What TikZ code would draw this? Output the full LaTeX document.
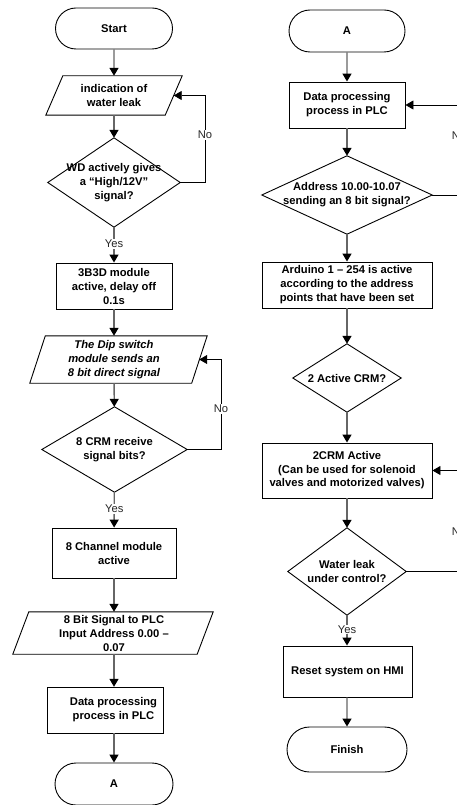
\documentclass[tikz,border=0pt]{standalone}
\usepackage{fontspec}
\setmainfont{Liberation Sans}
\usetikzlibrary{arrows.meta,shapes.misc,calc}
\begin{document}
\begin{tikzpicture}[x=1pt,y=-1pt,
  txt/.style={font=\bfseries\fontsize{11.2}{14}\selectfont, align=center, inner sep=0pt},
  term/.style={txt, rounded rectangle, draw, line width=0.9pt},
  proc/.style={txt, rectangle, draw, line width=0.9pt},
  hold/.style={txt, rectangle},
  outline/.style={draw, line width=0.9pt},
  flow/.style={draw=black!60, line width=1.4pt, -{Triangle[width=9pt,length=8pt,color=black]}},
  back/.style={draw=black, line width=0.8pt, -{Triangle[width=9pt,length=8pt,color=black]}},
  lbl/.style={font=\fontsize{11.2}{13}\selectfont, fill=white, inner sep=1pt, text=black!85}]
\useasboundingbox (0,0) rectangle (457,805);
\clip (0,0) rectangle (457,805);
\fill[white] (0,0) rectangle (457,805);

% ---------- left column ----------
\node[term, minimum width=117pt, minimum height=41pt] (start) at (114,28.5) {Start};
\node[hold, minimum width=136pt, minimum height=39pt] (p1) at (114,95.5) {indication of\\water leak};
\draw[outline] (p1.south west) -- ($(p1.north west)+(17,0)$) -- (p1.north east) -- ($(p1.south east)+(-17,0)$) -- cycle;
\node[hold, minimum width=132pt, minimum height=89pt] (d1) at (114,182.5) {WD actively gives\\a “High/12V”\\signal?};
\draw[outline] (d1.north) -- (d1.east) -- (d1.south) -- (d1.west) -- cycle;
\node[proc, minimum width=116pt, minimum height=46pt] (b1) at (114,286) {3B3D module\\active, delay off\\0.1s};
\node[hold, minimum width=177pt, minimum height=47pt, font=\bfseries\itshape\fontsize{11.2}{14}\selectfont] (p2) at (114,359.5) {The Dip switch\\module sends an\\8 bit direct signal};
\draw[outline] ($(p2.south west)+(4.5,0)$) -- ($(p2.north west)+(20,0)$) -- ($(p2.north east)+(4.5,0)$) -- ($(p2.south east)+(-11,0)$) -- cycle;
\node[hold, minimum width=145pt, minimum height=85pt] (d2) at (114.5,449.5) {8 CRM receive\\signal bits?};
\draw[outline] (d2.north) -- (d2.east) -- (d2.south) -- (d2.west) -- cycle;
\node[proc, minimum width=124pt, minimum height=50pt] (b2) at (114,553) {8 Channel module\\active};
\node[hold, minimum width=200pt, minimum height=42pt] (p3) at (114,633) {8 Bit Signal to PLC\\Input Address 0.00 –\\0.07};
\draw[outline] ($(p3.south west)+(-1,0)$) -- ($(p3.north west)+(15,0)$) -- ($(p3.north east)+(-1,0)$) -- ($(p3.south east)+(-17,0)$) -- cycle;
\node[hold, minimum height=46pt] (b3) at (113.5,710) {Data processing\\process in PLC};
\draw[outline] ($(b3.center)+(-66.5,-23)$) rectangle ($(b3.center)+(49.5,23)$);
\node[term, minimum width=118pt, minimum height=42pt] (a1) at (114,784) {A};

\draw[flow] (start) -- (p1);
\draw[flow] (p1) -- (d1);
\draw[flow] (d1) -- node[lbl, pos=0.47] {Yes} (b1);
\draw[flow] (b1) -- (p2);
\draw[flow] (p2) -- (d2);
\draw[flow] (d2) -- node[lbl, pos=0.47] {Yes} (b2);
\draw[flow] (b2) -- (p3);
\draw[flow] (p3.south) -- (p3.south |- b3.north);
\draw[flow] (b3.south -| a1.north) -- (a1.north);

\coordinate (l1) at (205,0);
\draw[back] (d1.east) -- (d1.east -| l1) -- node[lbl, pos=0.55] {No} (l1 |- p1.east) -- ($(p1.east)+(-8.5,0)$);
\coordinate (l2) at (221,0);
\draw[back] (d2.east) -- (d2.east -| l2) -- node[lbl, pos=0.45] {No} (l2 |- p2.east) -- ($(p2.east)+(-3.5,0)$);

% ---------- right column ----------
\node[term, minimum width=116pt, minimum height=42pt] (a2) at (347,31) {A};
\node[proc, minimum width=116pt, minimum height=46pt] (b4) at (347,105) {Data processing\\process in PLC};
\node[hold, minimum width=170pt, minimum height=78pt] (d3) at (347,195) {Address 10.00-10.07\\sending an 8 bit signal?};
\draw[outline] (d3.north) -- (d3.east) -- (d3.south) -- (d3.west) -- cycle;
\node[proc, minimum width=170pt, minimum height=46pt] (b5) at (347,285) {Arduino 1 – 254 is active\\according to the address\\points that have been set};
\node[hold, minimum width=108pt, minimum height=68pt] (d4) at (347,378) {2 Active CRM?};
\draw[outline] (d4.north) -- (d4.east) -- (d4.south) -- (d4.west) -- cycle;
\node[proc, minimum width=170pt, minimum height=55pt, font=\bfseries\fontsize{11.2}{13.5}\selectfont] (b6) at (347,470.5) {2CRM Active\\ (Can be used for solenoid\\valves and motorized valves)};
\node[hold, minimum width=118pt, minimum height=87pt] (d5) at (347,571.5) {Water leak\\under control?};
\draw[outline] (d5.north) -- (d5.east) -- (d5.south) -- (d5.west) -- cycle;
\node[proc, minimum width=129pt, minimum height=51pt] (b7) at (347.5,671.5) {Reset system on HMI};
\node[term, minimum width=120pt, minimum height=45pt] (fin) at (347,749.5) {Finish};

\draw[flow] (a2) -- (b4);
\draw[flow] (b4) -- (d3);
\draw[flow] (d3) -- (b5);
\draw[flow] (b5) -- (d4);
\draw[flow] (d4) -- (b6);
\draw[flow] (b6) -- (d5);
\draw[flow] (d5) -- node[lbl, pos=0.47] {Yes} (b7.north -| d5.south);
\draw[flow] (b7.south -| fin.north) -- (fin);

\coordinate (r1) at (459,0);
\draw[back] (d3.east) -- (d3.east -| r1) -- node[lbl, pos=0.66] {No} (r1 |- b4.east) -- (b4.east);
\draw[back] (d5.east) -- (d5.east -| r1) -- node[lbl, pos=0.39] {No} (r1 |- b6.east) -- (b6.east);
\end{tikzpicture}
\end{document}
